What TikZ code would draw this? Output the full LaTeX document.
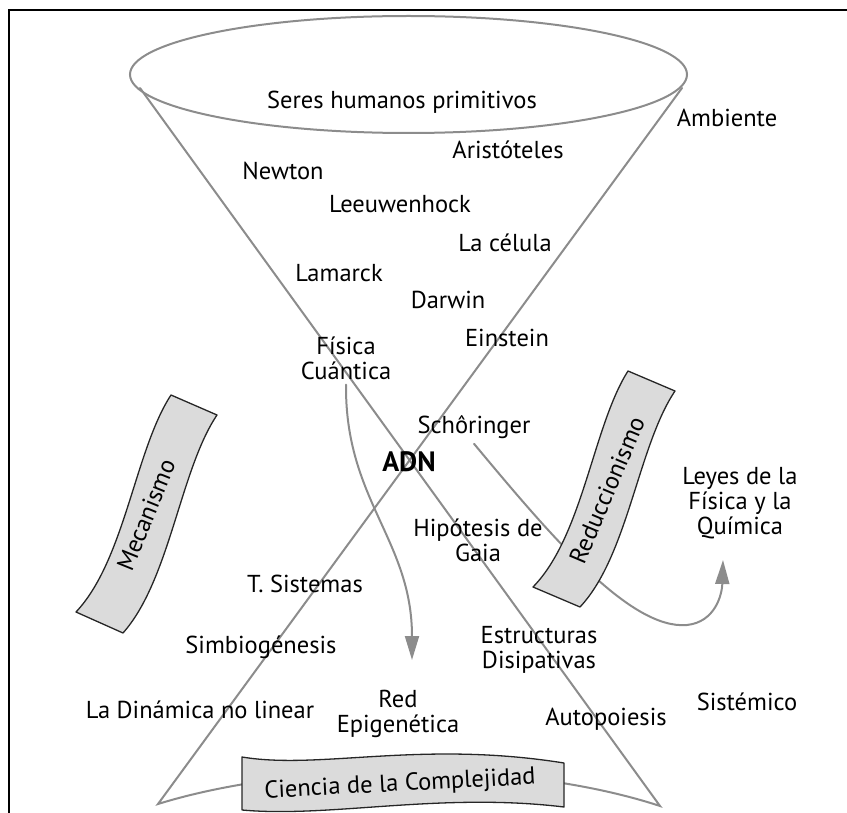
\documentclass[tikz,border=0pt]{standalone}
\usepackage{fontspec}
\setmainfont{PT Sans}
\usetikzlibrary{arrows.meta}
\definecolor{linea}{gray}{0.55}
\definecolor{relleno}{gray}{0.86}
\tikzset{
  etiqueta/.style={font=\fontsize{24.5}{25}\selectfont, align=center, inner sep=0pt},
  cono/.style={draw=linea, line width=2pt},
  banda/.style={fill=relleno, draw=black!85, line width=1.3pt, line join=round},
  flecha/.style={draw=linea, line width=2pt, -{Triangle[length=24pt,width=14pt]}}
}
\begin{document}
\begin{tikzpicture}[x=1pt, y=-1pt, line cap=round]
\useasboundingbox (0,0) rectangle (847,813);
% marco
\draw[line width=2pt, line cap=butt] (9,816) -- (9,10) -- (850,10);
% el cono de arriba y el de abajo
\coordinate (a1) at (140,88);
\coordinate (a2) at (682,88);
\coordinate (b1) at (158,804);
\coordinate (b2) at (660,806);
\draw[cono] (408.5,74.5) ellipse [x radius=278.5pt, y radius=58.5pt];
\draw[cono, line join=miter] (a1) -- (b2) .. controls (520,760) and (300,760) .. (b1) -- (a2);

% textos
\node[etiqueta] (seres) at (402,102) {Seres humanos primitivos};
\node[etiqueta] (ambiente) at (727,118) {Ambiente};
\node[etiqueta] (aristoteles) at (508,150) {Aristóteles};
\node[etiqueta] (newton) at (283,171) {Newton};
\node[etiqueta] (leeuwenhock) at (400,204) {Leeuwenhock};
\node[etiqueta] (celula) at (505,243) {La célula};
\node[etiqueta] (lamarck) at (339,273) {Lamarck};
\node[etiqueta] (darwin) at (448,300) {Darwin};
\node[etiqueta] (einstein) at (507,338) {Einstein};
\node[etiqueta] (fisica) at (346,358) {Física\\Cuántica};
\node[etiqueta] (schoringer) at (474,427) {Schôringer};
\node[etiqueta, font=\fontsize{28}{30}\selectfont\bfseries] (adn) at (409,462) {ADN};
\node[etiqueta] (gaia) at (478,540) {Hipótesis de\\Gaia};
\node[etiqueta] (leyes) at (740,503) {Leyes de la\\Física y la\\Química};
\node[etiqueta] (sistemas) at (305,584) {T. Sistemas};
\node[etiqueta] (simbio) at (261,647) {Simbiogénesis};
\node[etiqueta] (estructuras) at (539,650) {Estructuras\\Disipativas};
\node[etiqueta] (dinamica) at (200,710) {La Dinámica no linear};
\node[etiqueta] (red) at (398,714) {Red\\Epigenética};
\node[etiqueta] (autopoiesis) at (606,719) {Autopoiesis};
\node[etiqueta] (sistemico) at (747,702) {Sistémico};

% flechas
\coordinate (fin1) at (412,660);
\coordinate (fin2) at (723,560);
\draw[flecha] ([yshift=-5pt]fisica.south) .. controls (345,500) and (412,540) .. (fin1);
\draw[flecha] ([yshift=-5pt]schoringer.south) .. controls (550,535) and (630,630) .. (687,625)
  .. controls (715,622) and (722,595) .. (fin2);

% bandas
\draw[banda] (171,395) -- (217,415) .. controls (180,470) and (170,580) .. (123,633)
  -- (76,612) .. controls (125,560) and (135,450) .. cycle;
\node[etiqueta, rotate=68] (mecanismo) at (146,515) {Mecanismo};
\draw[banda] (628,371) -- (675,391) .. controls (638,446) and (628,556) .. (580,607)
  -- (533,587) .. controls (583,536) and (593,426) .. cycle;
\node[etiqueta, rotate=67] (reduccionismo) at (607,490) {Reduccionismo};
\draw[banda] (242,757) .. controls (320,770) and (420,740) .. (564,763)
  -- (564,807) .. controls (440,792) and (330,818) .. (242,810) -- cycle;
\node[etiqueta, rotate=3] (ciencia) at (400,785) {Ciencia de la Complejidad};
\end{tikzpicture}
\end{document}
